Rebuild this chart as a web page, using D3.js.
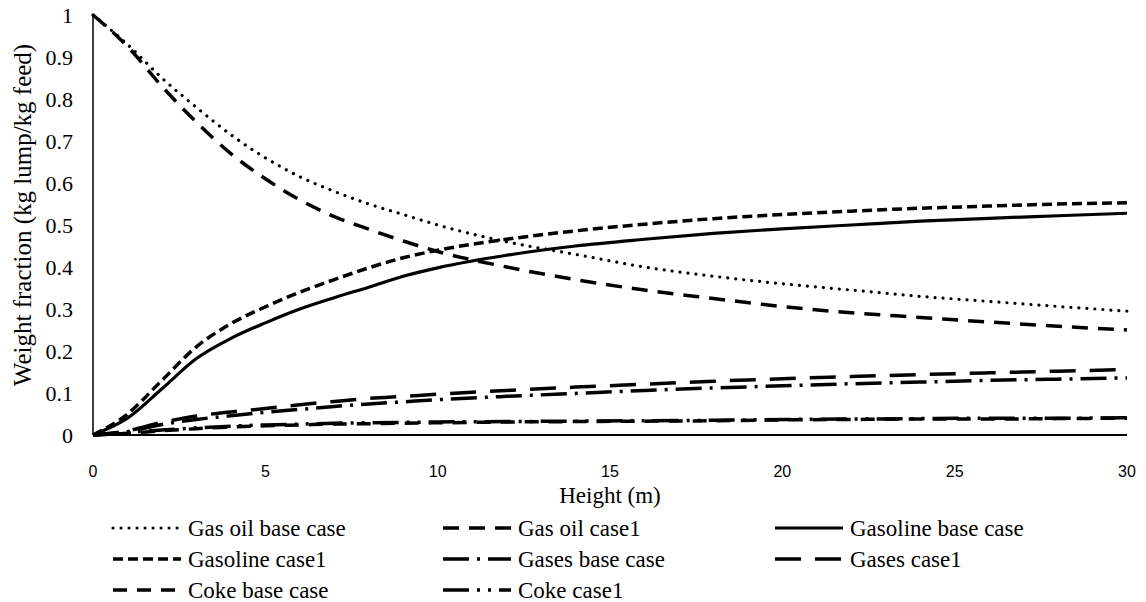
<!DOCTYPE html>
<html>
<head>
<meta charset="utf-8">
<script src="https://cdnjs.cloudflare.com/ajax/libs/d3/7.8.5/d3.min.js"></script>
<style>
  body { margin: 0; background: #fff; }
  svg text.serif { font-family: "Liberation Serif", serif; }
</style>
</head>
<body>
<div id="chart"></div>
<script>
var width = 1146,
	height = 602;

var serifFont = "Liberation Serif",
	sansFont = "Liberation Sans";

// heights (m) at which the curves were read
var heightsM = [0, 1, 2, 3, 4, 5, 6, 7, 8, 9, 10, 12, 14, 16, 18, 20, 22, 24, 26, 28, 30];

var gasOilBase   = [1, 0.93, 0.85, 0.78, 0.715, 0.66, 0.615, 0.58, 0.55, 0.525, 0.50, 0.46, 0.43, 0.40, 0.378, 0.36, 0.345, 0.33, 0.318, 0.306, 0.295];
var gasOilCase1  = [1, 0.925, 0.83, 0.745, 0.67, 0.61, 0.56, 0.52, 0.49, 0.462, 0.437, 0.40, 0.37, 0.345, 0.325, 0.306, 0.291, 0.28, 0.269, 0.259, 0.25];
var gasolineBase = [0, 0.04, 0.11, 0.182, 0.23, 0.267, 0.30, 0.327, 0.352, 0.378, 0.398, 0.428, 0.45, 0.466, 0.48, 0.491, 0.50, 0.509, 0.516, 0.522, 0.528];
var gasolineCase1 = [0, 0.05, 0.13, 0.21, 0.265, 0.305, 0.34, 0.37, 0.398, 0.422, 0.44, 0.466, 0.486, 0.502, 0.515, 0.525, 0.533, 0.54, 0.545, 0.55, 0.553];
var gasesBase    = [0, 0.008, 0.025, 0.037, 0.046, 0.054, 0.061, 0.068, 0.074, 0.079, 0.084, 0.092, 0.099, 0.106, 0.112, 0.117, 0.122, 0.126, 0.13, 0.133, 0.136];
var gasesCase1   = [0, 0.01, 0.03, 0.045, 0.055, 0.063, 0.072, 0.08, 0.087, 0.092, 0.097, 0.106, 0.114, 0.121, 0.128, 0.134, 0.139, 0.144, 0.148, 0.152, 0.156];
var cokeBase     = [0, 0.004, 0.01, 0.015, 0.019, 0.022, 0.024, 0.026, 0.027, 0.028, 0.029, 0.031, 0.032, 0.033, 0.034, 0.036, 0.037, 0.038, 0.038, 0.039, 0.04];
var cokeCase1    = [0, 0.006, 0.012, 0.017, 0.021, 0.024, 0.026, 0.028, 0.029, 0.03, 0.031, 0.032, 0.033, 0.034, 0.035, 0.037, 0.038, 0.039, 0.04, 0.04, 0.041];

var seriesNames = ["Gas oil base case", "Gas oil case1", "Gasoline base case", "Gasoline case1",
	"Gases base case", "Gases case1", "Coke base case", "Coke case1"];
var seriesValues = [gasOilBase, gasOilCase1, gasolineBase, gasolineCase1, gasesBase, gasesCase1, cokeBase, cokeCase1];

var xTicks = [0, 5, 10, 15, 20, 25, 30];
var yTicks = [0, 0.1, 0.2, 0.3, 0.4, 0.5, 0.6, 0.7, 0.8, 0.9, 1];

// line styles per series
var styles = [
	{ dash: "0.01,8", width: 3.2, cap: "round" },
	{ dash: "16,10", width: 3.5, cap: "butt" },
	{ dash: null, width: 3.2, cap: "butt" },
	{ dash: "10,5", width: 3.5, cap: "butt" },
	{ dash: "26,8,3,8", width: 3.5, cap: "butt" },
	{ dash: "26,14", width: 3.5, cap: "butt" },
	{ dash: "14,10", width: 3.5, cap: "butt" },
	{ dash: "26,8,3,8,3,8", width: 3.5, cap: "butt" }
];

var svg = d3.select("#chart").append("svg")
	.attr("width", width)
	.attr("height", height);

var plot = { left: 93, right: 1127, top: 15, bottom: 435 };

var x = d3.scaleLinear().domain([0, 30]).range([plot.left, plot.right]);
var y = d3.scaleLinear().domain([0, 1]).range([plot.bottom, plot.top]);

// axes
svg.append("line")
	.attr("x1", x(0)).attr("x2", x(0))
	.attr("y1", y(1)).attr("y2", y(0))
	.attr("stroke", "#000").attr("stroke-width", 1.5);

svg.append("line")
	.attr("x1", x(0)).attr("x2", x(30))
	.attr("y1", y(0)).attr("y2", y(0))
	.attr("stroke", "#000").attr("stroke-width", 2);

svg.selectAll(".ytick")
	.data(yTicks)
	.enter()
	.append("text")
	.attr("class", "serif")
	.attr("x", plot.left - 20)
	.attr("y", function(d) { return y(d); })
	.attr("dy", "0.35em")
	.attr("text-anchor", "end")
	.attr("font-family", serifFont)
	.attr("font-size", 22)
	.text(function(d) { return d; });

svg.selectAll(".xtick")
	.data(xTicks)
	.enter()
	.append("text")
	.attr("x", function(d) { return x(d); })
	.attr("y", 471)
	.attr("dy", "0.35em")
	.attr("text-anchor", "middle")
	.attr("font-family", sansFont)
	.attr("font-size", 16)
	.text(function(d) { return d; });

svg.append("text")
	.attr("class", "serif")
	.attr("x", (plot.left + plot.right) / 2)
	.attr("y", 495)
	.attr("dy", "0.35em")
	.attr("text-anchor", "middle")
	.attr("font-family", serifFont)
	.attr("font-size", 23)
	.text("Height (m)");

svg.append("text")
	.attr("class", "serif")
	.attr("transform", "translate(22,215) rotate(-90)")
	.attr("dy", "0.35em")
	.attr("text-anchor", "middle")
	.attr("font-family", serifFont)
	.attr("font-size", 25)
	.text("Weight fraction (kg lump/kg feed)");

// curves
var line = d3.line()
	.x(function(d) { return x(d[0]); })
	.y(function(d) { return y(d[1]); })
	.curve(d3.curveMonotoneX);

svg.append("g")
	.selectAll("path")
	.data(seriesValues)
	.enter()
	.append("path")
	.attr("d", function(vals) {
		return line(vals.map(function(v, i) { return [heightsM[i], v]; }));
	})
	.attr("fill", "none")
	.attr("stroke", "#000")
	.attr("stroke-width", function(d, i) { return styles[i].width; })
	.attr("stroke-linecap", function(d, i) { return styles[i].cap; })
	.attr("stroke-dasharray", function(d, i) { return styles[i].dash; });

// legend, 3 columns
var legendX = [113, 443, 775],
	legendY = [528, 559, 590];

var legend = svg.append("g")
	.selectAll("g")
	.data(seriesNames)
	.enter()
	.append("g")
	.attr("transform", function(d, i) {
		return "translate(" + legendX[i % 3] + "," + legendY[Math.floor(i / 3)] + ")";
	});

legend.append("line")
	.attr("x1", 0).attr("x2", 68)
	.attr("y1", 0).attr("y2", 0)
	.attr("stroke", "#000")
	.attr("stroke-width", function(d, i) { return styles[i].width; })
	.attr("stroke-linecap", function(d, i) { return styles[i].cap; })
	.attr("stroke-dasharray", function(d, i) { return styles[i].dash; });

legend.append("text")
	.attr("class", "serif")
	.attr("x", 75)
	.attr("dy", "0.35em")
	.attr("font-family", serifFont)
	.attr("font-size", 23)
	.text(function(d) { return d; });
</script>
</body>
</html>
